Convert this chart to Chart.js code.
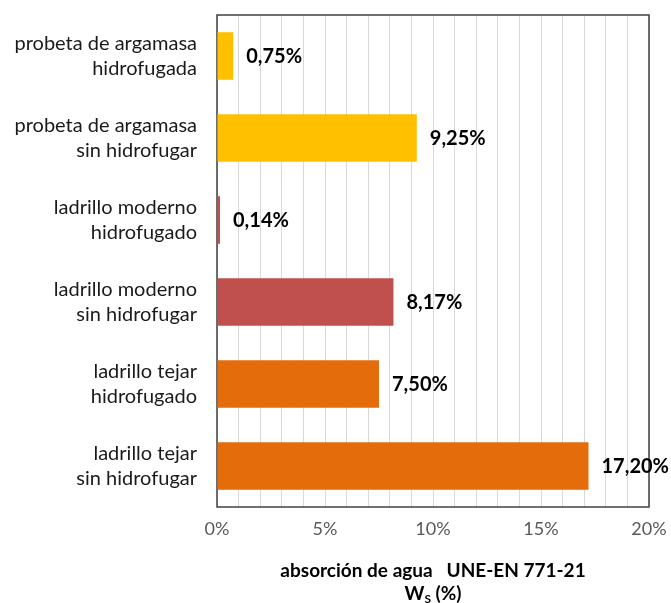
<!DOCTYPE html>
<html><head><meta charset="utf-8">
<script src="https://cdn.jsdelivr.net/npm/chart.js@4/dist/chart.umd.min.js"></script>
<style>html,body{margin:0;padding:0;background:#fff}#wrap{width:671px;height:603px}</style>
</head><body><div id="wrap"><canvas id="c" width="671" height="603"></canvas></div>
<script>
const categories = [
  ["probeta de argamasa","hidrofugada"],
  ["probeta de argamasa","sin hidrofugar"],
  ["ladrillo moderno","hidrofugado"],
  ["ladrillo moderno","sin hidrofugar"],
  ["ladrillo tejar","hidrofugado"],
  ["ladrillo tejar","sin hidrofugar"]
];
const values = [0.75, 9.25, 0.14, 8.17, 7.50, 17.20];
const valueLabels = ["0,75%","9,25%","0,14%","8,17%","7,50%","17,20%"];
const barColors = ["#FFC000","#FFC000","#C0504D","#C0504D","#E46C0A","#E46C0A"];
const tickLabels = {0:"0%",5:"5%",10:"10%",15:"15%",20:"20%"};
const titleLine1 = "absorción de agua   UNE-EN 771-21";
const titleMain = "W", titleSub = "S", titleRest = " (%)";

const FONT = "Lato, 'Open Sans', sans-serif";

const frame = {
  id:'frame',
  beforeDatasetsDraw(chart){
    const a = chart.chartArea, ctx = chart.ctx;
    ctx.save(); ctx.strokeStyle = '#404040'; ctx.lineWidth = 1.5;
    ctx.strokeRect(a.left, a.top, a.right - a.left, a.bottom - a.top);
    ctx.restore();
  }
};
const dataLabels = {
  id:'dataLabels',
  afterDatasetsDraw(chart){
    const ctx = chart.ctx, meta = chart.getDatasetMeta(0);
    ctx.save(); ctx.font = "bold 20px " + FONT; ctx.fillStyle = '#000';
    ctx.textAlign = 'left'; ctx.textBaseline = 'middle';
    meta.data.forEach((el,i)=>{ ctx.fillText(valueLabels[i], el.x + 13, el.y + 1); });
    ctx.restore();
  }
};
const axisTitle = {
  id:'axisTitle',
  afterDraw(chart){
    const a = chart.chartArea, ctx = chart.ctx;
    const cx = (a.left + a.right)/2;
    ctx.save(); ctx.fillStyle = '#000'; ctx.textBaseline = 'alphabetic';
    ctx.font = "bold 19px " + FONT; ctx.textAlign = 'center';
    ctx.fillText(titleLine1, cx, 577);
    const wW = ctx.measureText(titleMain).width;
    const wR = ctx.measureText(titleRest).width;
    ctx.font = "bold 12px " + FONT;
    const wS = ctx.measureText(titleSub).width;
    let x = cx - (wW + wS + wR)/2;
    ctx.textAlign = 'left';
    ctx.font = "bold 19px " + FONT; ctx.fillText(titleMain, x, 600); x += wW;
    ctx.font = "bold 12px " + FONT; ctx.fillText(titleSub, x, 603); x += wS;
    ctx.font = "bold 19px " + FONT; ctx.fillText(titleRest, x, 600);
    ctx.restore();
  }
};

new Chart(document.getElementById('c'), {
  type:'bar',
  data:{ labels: categories, datasets:[{ data: values, backgroundColor: barColors, borderWidth:0, barPercentage:0.58, categoryPercentage:1 }]},
  options:{
    indexAxis:'y', responsive:false, animation:false,
    layout:{ padding:{ top:15, right:22, left:0, bottom:0 } },
    plugins:{ legend:{display:false}, tooltip:{enabled:false} },
    scales:{
      x:{ min:0, max:20,
        ticks:{ stepSize:1, autoSkip:false, maxRotation:0, color:'#595959', font:{size:18, family:FONT}, padding:11,
          callback:(v)=> tickLabels[v] !== undefined ? tickLabels[v] : '' },
        grid:{ color:'#d9d9d9', lineWidth:1, drawTicks:false },
        border:{ display:false },
        afterFit(s){ s.height = 96; s.paddingLeft = 0; s.paddingRight = 0; }
      },
      y:{
        ticks:{ color:'#1a1a1a', font:{size:20, family:FONT, lineHeight:1.25}, padding:20 },
        grid:{ display:false, drawTicks:false },
        border:{ display:false },
        afterFit(s){ s.width = 217; s.paddingTop = 0; s.paddingBottom = 0; }
      }
    }
  },
  plugins:[frame, dataLabels, axisTitle]
});
</script></body></html>
